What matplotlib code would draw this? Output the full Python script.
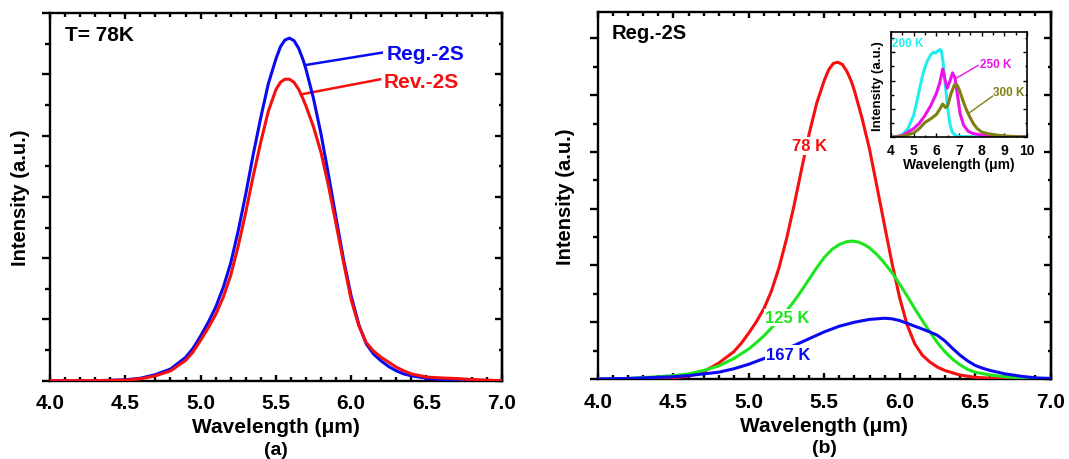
import matplotlib
matplotlib.use("Agg")
import matplotlib.pyplot as plt
from matplotlib.ticker import MultipleLocator, NullFormatter

plt.rcParams['font.family'] = ['Liberation Sans', 'DejaVu Sans']
plt.rcParams['font.weight'] = 'bold'

# ---------------- Panel (a) data: T = 78 K ----------------
a_reg_x = [4.0, 4.3, 4.5, 4.6, 4.7, 4.8, 4.9, 4.95, 5.0, 5.05, 5.1, 5.15, 5.2, 5.25, 5.3, 5.35,
           5.4, 5.45, 5.5, 5.53, 5.56, 5.59, 5.62, 5.65, 5.68, 5.7, 5.75, 5.8, 5.85, 5.9, 5.95,
           6.0, 6.05, 6.1, 6.15, 6.2, 6.25, 6.3, 6.35, 6.4, 6.5, 6.6, 6.7, 6.85, 7.0]
a_reg_y = [0.0, 0.0, 0.015, 0.04, 0.1, 0.19, 0.38, 0.53, 0.73, 0.95, 1.2, 1.52, 1.92, 2.45, 3.05, 3.7,
           4.3, 4.85, 5.25, 5.45, 5.56, 5.59, 5.55, 5.43, 5.24, 5.08, 4.6, 4.02, 3.35, 2.65, 1.97,
           1.38, 0.92, 0.6, 0.43, 0.32, 0.23, 0.16, 0.11, 0.08, 0.04, 0.02, 0.01, 0.005, 0.0]
a_rev_x = [4.0, 4.3, 4.5, 4.6, 4.7, 4.8, 4.9, 4.95, 5.0, 5.05, 5.1, 5.15, 5.2, 5.25, 5.3, 5.35,
           5.4, 5.45, 5.5, 5.53, 5.56, 5.59, 5.62, 5.65, 5.68, 5.7, 5.75, 5.8, 5.85, 5.9, 5.95,
           6.0, 6.05, 6.1, 6.15, 6.2, 6.25, 6.3, 6.35, 6.4, 6.5, 6.6, 6.7, 6.8, 6.9, 7.0]
a_rev_y = [0.0, 0.0, 0.01, 0.03, 0.08, 0.16, 0.33, 0.47, 0.66, 0.86, 1.08, 1.36, 1.72, 2.2, 2.75, 3.35,
           3.9, 4.4, 4.75, 4.87, 4.92, 4.92, 4.87, 4.76, 4.6, 4.48, 4.14, 3.72, 3.17, 2.55, 1.92,
           1.32, 0.9, 0.62, 0.48, 0.38, 0.3, 0.22, 0.16, 0.11, 0.06, 0.045, 0.035, 0.02, 0.01, 0.0]

# ---------------- Panel (b) data: Reg.-2S vs temperature ----------------
b_78_x = [4.0, 4.3, 4.5, 4.6, 4.7, 4.8, 4.9, 4.95, 5.0, 5.05, 5.1, 5.15, 5.2, 5.25, 5.3, 5.35,
          5.4, 5.45, 5.5, 5.53, 5.56, 5.59, 5.62, 5.65, 5.68, 5.7, 5.75, 5.8, 5.85, 5.9, 5.95,
          6.0, 6.05, 6.1, 6.15, 6.2, 6.25, 6.3, 6.4, 6.5, 6.6, 6.7, 7.0]
b_78_y = [0.0, 0.0, 0.02, 0.05, 0.13, 0.28, 0.48, 0.63, 0.81, 1.01, 1.24, 1.55, 1.96, 2.47, 3.06, 3.7,
          4.32, 4.86, 5.26, 5.45, 5.56, 5.58, 5.54, 5.42, 5.24, 5.08, 4.6, 4.05, 3.38, 2.7, 2.03,
          1.43, 0.95, 0.62, 0.42, 0.3, 0.21, 0.15, 0.07, 0.03, 0.015, 0.01, 0.0]
b_125_x = [4.0, 4.2, 4.4, 4.5, 4.6, 4.7, 4.8, 4.9, 5.0, 5.05, 5.1, 5.15, 5.2, 5.25, 5.3, 5.35,
           5.4, 5.45, 5.5, 5.55, 5.6, 5.65, 5.69, 5.73, 5.77, 5.8, 5.85, 5.9, 5.95, 6.0, 6.05,
           6.1, 6.15, 6.2, 6.25, 6.3, 6.35, 6.4, 6.45, 6.5, 6.6, 6.7, 6.8, 7.0]
b_125_y = [0.0, 0.01, 0.04, 0.06, 0.09, 0.15, 0.23, 0.36, 0.53, 0.64, 0.76, 0.9, 1.05, 1.2, 1.37,
           1.56, 1.76, 1.96, 2.14, 2.28, 2.37, 2.42, 2.43, 2.41, 2.36, 2.31, 2.19, 2.04, 1.87, 1.67,
           1.46, 1.24, 1.03, 0.83, 0.64, 0.48, 0.35, 0.25, 0.17, 0.12, 0.07, 0.04, 0.02, 0.0]
b_167_x = [4.0, 4.2, 4.4, 4.5, 4.6, 4.7, 4.8, 4.9, 5.0, 5.1, 5.2, 5.3, 5.4, 5.5, 5.6, 5.7, 5.8,
           5.9, 5.95, 6.0, 6.05, 6.1, 6.15, 6.2, 6.25, 6.3, 6.35, 6.4, 6.45, 6.5, 6.55, 6.6, 6.7,
           6.8, 6.9, 7.0]
b_167_y = [0.0, 0.01, 0.03, 0.04, 0.06, 0.09, 0.12, 0.18, 0.26, 0.36, 0.48, 0.59, 0.71, 0.83, 0.93,
           1.0, 1.05, 1.07, 1.06, 1.03, 0.98, 0.93, 0.88, 0.83, 0.77, 0.67, 0.54, 0.42, 0.32, 0.24,
           0.19, 0.15, 0.09, 0.05, 0.02, 0.01]

# ---------------- Inset data: higher temperatures ----------------
i_200_x = [4.0, 4.3, 4.5, 4.75, 5.0, 5.15, 5.3, 5.45, 5.6, 5.75, 5.87, 5.95, 6.05, 6.15, 6.22,
           6.3, 6.4, 6.5, 6.6, 6.7, 6.85, 7.0, 8.0, 10.0]
i_200_y = [0.0, 0.01, 0.03, 0.1, 0.25, 0.42, 0.6, 0.76, 0.87, 0.94, 0.97, 0.96, 0.98, 1.0, 0.99,
           0.85, 0.59, 0.33, 0.15, 0.06, 0.02, 0.01, 0.005, 0.0]
i_250_x = [4.0, 4.5, 5.0, 5.25, 5.5, 5.75, 6.0, 6.15, 6.28, 6.38, 6.48, 6.6, 6.72, 6.82, 6.95,
           7.05, 7.2, 7.4, 7.6, 8.0, 8.5, 9.0, 9.5, 10.0]
i_250_y = [0.0, 0.02, 0.1, 0.16, 0.25, 0.36, 0.5, 0.62, 0.78, 0.66, 0.56, 0.64, 0.735, 0.68, 0.45,
           0.27, 0.14, 0.07, 0.045, 0.025, 0.015, 0.01, 0.01, 0.005]
i_300_x = [4.0, 4.5, 5.0, 5.25, 5.5, 5.75, 6.0, 6.15, 6.28, 6.4, 6.5, 6.65, 6.8, 6.9, 7.0, 7.2,
           7.35, 7.5, 7.65, 7.8, 8.0, 8.3, 8.7, 9.0, 9.5, 10.0]
i_300_y = [0.0, 0.01, 0.05, 0.1, 0.17, 0.21, 0.26, 0.32, 0.38, 0.34, 0.36, 0.5, 0.6, 0.6, 0.55, 0.4,
           0.3, 0.22, 0.15, 0.1, 0.06, 0.04, 0.025, 0.015, 0.008, 0.005]

BLUE = '#0a0af0'
RED = '#f51010'
GREEN = '#1ee61e'
CYAN = '#22eeee'
MAGENTA = '#ee11ee'
OLIVE = '#808010'

fig = plt.figure(figsize=(10.69, 4.6), dpi=100)

LW = 2.2
SPW = 1.7


def style_main(ax, ymax):
    ax.set_xlim(4.0, 7.0)
    ax.set_ylim(0, ymax)
    for s in ax.spines.values():
        s.set_linewidth(SPW)
    ax.xaxis.set_major_locator(MultipleLocator(0.5))
    ax.xaxis.set_minor_locator(MultipleLocator(0.1))
    ax.xaxis.set_major_formatter(plt.FormatStrFormatter('%.1f'))
    ax.yaxis.set_major_locator(MultipleLocator(1))
    ax.yaxis.set_minor_locator(MultipleLocator(0.5))
    ax.yaxis.set_major_formatter(NullFormatter())
    ax.tick_params(axis='x', which='both', direction='in', top=True, bottom=True,
                   width=SPW, labelsize=15, pad=9)
    ax.tick_params(axis='x', which='major', length=4.5)
    ax.tick_params(axis='x', which='minor', length=3)
    ax.tick_params(axis='y', which='both', direction='out', left=True, right=False, width=SPW)
    ax.tick_params(axis='y', which='major', length=6)
    ax.tick_params(axis='y', which='minor', length=3.6)
    sec = ax.secondary_yaxis('right')
    sec.yaxis.set_major_locator(MultipleLocator(1))
    sec.yaxis.set_minor_locator(MultipleLocator(0.5))
    sec.tick_params(which='both', direction='in', labelright=False, width=SPW)
    sec.tick_params(which='major', length=4.8)
    sec.tick_params(which='minor', length=2.4)
    sec.spines['right'].set_linewidth(SPW)
    for lab in ax.get_xticklabels():
        lab.set_fontweight('bold')
    ax.set_xlabel('Wavelength (μm)', fontsize=15, fontweight='bold')
    ax.set_ylabel('Intensity (a.u.)', fontsize=14.5, fontweight='bold')
    ax.xaxis.set_label_coords(0.5, -0.10)
    ax.xaxis.label.set_va('top')


# ---------------- Panel (a) ----------------
axa = fig.add_axes([0.0468, 0.1702, 0.4226, 0.7993])
axa.plot(a_reg_x, a_reg_y, color=BLUE, lw=LW, zorder=3)
axa.plot(a_rev_x, a_rev_y, color=RED, lw=LW, zorder=4)
style_main(axa, 6.0)
axa.yaxis.set_label_coords(-0.065, 0.5)
axa.yaxis.label.set_va('center')
axa.text(4.10, 5.65, 'T= 78K', fontsize=15, fontweight='bold', va='center', ha='left')
axa.plot([5.698, 6.203], [5.152, 5.353], color=BLUE, lw=1.8)
axa.text(6.236, 5.342, 'Reg.-2S', color=BLUE, fontsize=15, fontweight='bold', va='center', ha='left')
axa.plot([5.671, 6.192], [4.674, 4.918], color=RED, lw=1.8)
axa.text(6.214, 4.875, 'Rev.-2S', color=RED, fontsize=15, fontweight='bold', va='center', ha='left')
axa.text(0.5, -0.187, '(a)', transform=axa.transAxes, fontsize=14, fontweight='bold',
         ha='center', va='center')

# ---------------- Panel (b) ----------------
axb = fig.add_axes([0.5594, 0.1739, 0.4233, 0.7985])
axb.plot(b_78_x, b_78_y, color=RED, lw=LW, zorder=3)
axb.plot(b_125_x, b_125_y, color=GREEN, lw=LW, zorder=3)
axb.plot(b_167_x, b_167_y, color=BLUE, lw=LW, zorder=3)
style_main(axb, 6.47)
axb.yaxis.set_label_coords(-0.071, 0.5)
axb.yaxis.label.set_va('center')
axb.text(4.09, 6.11, 'Reg.-2S', fontsize=14.5, fontweight='bold', va='center', ha='left')
box = dict(boxstyle='square,pad=0.08', fc='white', ec='none')
axb.text(5.403, 4.11, '78 K', color=RED, fontsize=12, fontweight='bold', va='center',
         ha='center', bbox=box, zorder=5)
axb.text(5.255, 1.086, '125 K', color=GREEN, fontsize=12, fontweight='bold', va='center',
         ha='center', bbox=box, zorder=5)
axb.text(5.26, 0.44, '167 K', color=BLUE, fontsize=12, fontweight='bold', va='center',
         ha='center', bbox=box, zorder=5)
axb.text(0.5, -0.187, '(b)', transform=axb.transAxes, fontsize=14, fontweight='bold',
         ha='center', va='center')

# ---------------- Inset ----------------
axi = fig.add_axes([0.8335, 0.6993, 0.1272, 0.2289])
axi.plot(i_200_x, i_200_y, color=CYAN, lw=2.2)
axi.plot(i_250_x, i_250_y, color=MAGENTA, lw=2.2)
axi.plot(i_300_x, i_300_y, color=OLIVE, lw=2.2)
axi.set_xlim(4, 10)
axi.set_ylim(0, 1.2)
for s in axi.spines.values():
    s.set_linewidth(1.2)
axi.xaxis.set_major_locator(MultipleLocator(1))
axi.xaxis.set_minor_locator(MultipleLocator(0.5))
axi.yaxis.set_major_locator(MultipleLocator(0.323))
axi.yaxis.set_minor_locator(MultipleLocator(0.1615))
axi.yaxis.set_major_formatter(NullFormatter())
axi.tick_params(which='both', direction='in', top=True, right=True, width=1.0, labelsize=10, pad=4)
axi.tick_params(which='major', length=3)
axi.tick_params(which='minor', length=1.8)
for lab in axi.get_xticklabels():
    lab.set_fontweight('bold')
axi.set_xlabel('Wavelength (μm)', fontsize=10, fontweight='bold', labelpad=0)
axi.set_ylabel('Intensity (a.u.)', fontsize=9.5, fontweight='bold', labelpad=1)
axi.text(4.75, 1.078, '200 K', color=CYAN, fontsize=8.5, fontweight='bold', va='center', ha='center')
axi.plot([6.88, 7.84], [0.674, 0.819], color=MAGENTA, lw=1.0)
axi.text(8.6, 0.838, '250 K', color=MAGENTA, fontsize=8.5, fontweight='bold', va='center', ha='center')
axi.plot([7.39, 8.48], [0.267, 0.469], color=OLIVE, lw=1.0)
axi.text(9.2, 0.514, '300 K', color=OLIVE, fontsize=8.5, fontweight='bold', va='center', ha='center')

fig.savefig('out.png', dpi=100)
